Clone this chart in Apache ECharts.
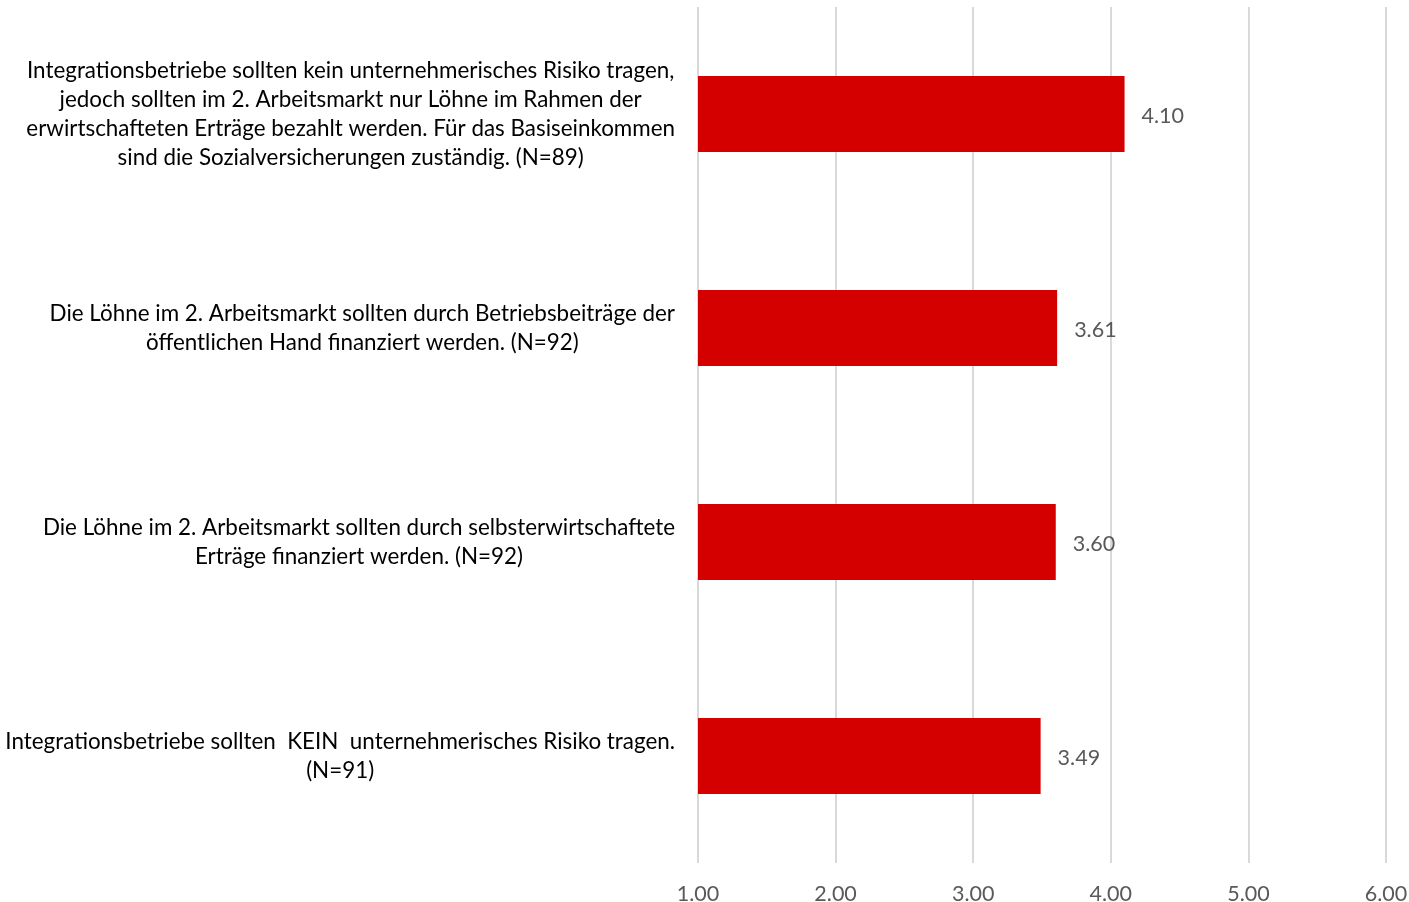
<!DOCTYPE html>
<html>
<head>
<meta charset="utf-8">
<script src="https://cdn.jsdelivr.net/npm/echarts@6/dist/echarts.min.js"></script>
<style>
  html, body { margin: 0; padding: 0; background: #ffffff; }
  #chart { width: 1409px; height: 902px; }
</style>
</head>
<body>
<div id="chart"></div>
<script>
// Statements, top to bottom
const categories = [
  'Integrationsbetriebe sollten kein unternehmerisches Risiko tragen,\njedoch sollten im 2. Arbeitsmarkt nur Löhne im Rahmen der\nerwirtschafteten Erträge bezahlt werden. Für das Basiseinkommen\nsind die Sozialversicherungen zuständig. (N=89)',
  'Die Löhne im 2. Arbeitsmarkt sollten durch Betriebsbeiträge der\nöffentlichen Hand finanziert werden. (N=92)',
  'Die Löhne im 2. Arbeitsmarkt sollten durch selbsterwirtschaftete\nErträge finanziert werden. (N=92)',
  'Integrationsbetriebe sollten  KEIN  unternehmerisches Risiko tragen.\n(N=91)'
];
// Mean agreement
const means = [4.10, 3.61, 3.60, 3.49];

const FONT = 'Lato, "Open Sans", sans-serif';

const chart = echarts.init(document.getElementById('chart'), null, { renderer: 'canvas' });

chart.setOption({
  animation: false,
  backgroundColor: '#ffffff',
  grid: { left: 698, right: 23, top: 7, bottom: 39, containLabel: false, outerBoundsMode: 'none' },
  xAxis: {
    type: 'value',
    min: 1,
    max: 6,
    interval: 1,
    axisLine: { show: false },
    axisTick: { show: false },
    splitLine: { show: true, lineStyle: { color: '#d9d9d9', width: 2 } },
    axisLabel: {
      color: '#595959',
      fontFamily: FONT,
      fontSize: 21.5,
      margin: 20,
      formatter: v => v.toFixed(2)
    }
  },
  yAxis: {
    type: 'category',
    inverse: true,
    data: categories,
    axisLine: { show: false },
    axisTick: { show: false },
    axisLabel: {
      margin: 23,
      fontFamily: FONT,
      fontSize: 22.4,
      color: '#000000',
      formatter: v => v.split('\n').map(l => '{c|' + l + '}').join('\n'),
      rich: {
        c: { align: 'center', fontFamily: FONT, fontSize: 22.4, lineHeight: 29, color: '#000000' }
      }
    }
  },
  series: [{
    type: 'bar',
    data: means,
    barCategoryGap: '64.5%',
    itemStyle: { color: '#d40000' },
    label: {
      show: true,
      position: 'right',
      distance: 17,
      offset: [0, 2],
      color: '#595959',
      fontFamily: FONT,
      fontSize: 21.5,
      formatter: p => p.value.toFixed(2)
    }
  }]
});
</script>
</body>
</html>
